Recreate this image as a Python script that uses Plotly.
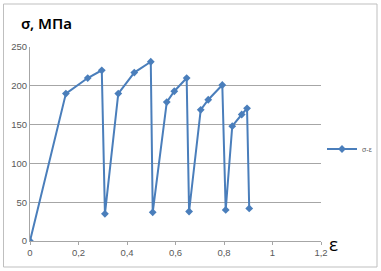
import plotly.graph_objects as go

strain = [0, 0.148, 0.238, 0.296, 0.309, 0.364, 0.43, 0.498, 0.506, 0.564, 0.595, 0.646,
          0.656, 0.704, 0.735, 0.793, 0.807, 0.834, 0.873, 0.895, 0.904]
stress = [0, 190, 210, 220, 35, 190, 217, 231, 37, 179, 193, 210,
          38, 169, 182, 201, 40, 148, 163, 171, 42]
x_ticks = [0, 0.2, 0.4, 0.6, 0.8, 1.0, 1.2]
x_labels = ["0", "0,2", "0,4", "0,6", "0,8", "1", "1,2"]
y_ticks = [0, 50, 100, 150, 200, 250]

W, H = 381, 271
L, R, T, B = 30, 60, 47, 30
pw, ph = W - L - R, H - T - B

def px(x):
    return (x - L) / pw

def py(y):
    return (H - B - y) / ph

blue = "#4A7EBB"
fig = go.Figure()
fig.add_trace(go.Scatter(
    x=strain, y=stress, mode="lines+markers", name="σ-ε",
    line=dict(color=blue, width=2),
    marker=dict(symbol="diamond", size=6, color=blue),
))

fig.update_layout(
    width=W, height=H,
    margin=dict(l=L, r=R, t=T, b=B, autoexpand=False),
    paper_bgcolor="white", plot_bgcolor="white",
    font=dict(family="Liberation Sans, Arial, sans-serif", color="#595959", size=9),
    showlegend=True,
    legend=dict(xref="container", yref="container", x=322 / W, y=1 - 149 / H,
                xanchor="left", yanchor="middle",
                font=dict(size=7, color="#595959"), bgcolor="rgba(0,0,0,0)",
                itemwidth=30),
    xaxis=dict(range=[0, 1.2], tickvals=x_ticks, ticktext=x_labels,
               showgrid=False, zeroline=False, showline=True, linecolor="#A6A6A6",
               linewidth=1, ticks="outside", ticklen=3, tickcolor="#A6A6A6",
               tickfont=dict(size=9.5, color="#595959"), automargin=False),
    yaxis=dict(range=[0, 250], tickvals=y_ticks, showgrid=True, gridcolor="#A6A6A6",
               gridwidth=1, zeroline=False, showline=True, linecolor="#A6A6A6",
               linewidth=1, ticks="", tickfont=dict(size=9.5, color="#595959"),
               automargin=False),
    shapes=[dict(type="rect", xref="paper", yref="paper",
                 x0=px(3.5), x1=px(377), y0=py(267), y1=py(4),
                 line=dict(color="#BFBFBF", width=1), layer="below")],
    annotations=[
        dict(text="σ, МПа", xref="paper", yref="paper", x=px(19), y=py(23),
             xanchor="left", yanchor="middle", showarrow=False,
             font=dict(size=15, color="#000000", family="Noto Sans, sans-serif",
                       weight=600)),
        dict(text="ε", xref="paper", yref="paper", x=px(333), y=py(244),
             xanchor="center", yanchor="middle", showarrow=False,
             font=dict(size=19, color="#000000", family="Open Sans, sans-serif")),
    ],
)

fig.write_html("out.html")
